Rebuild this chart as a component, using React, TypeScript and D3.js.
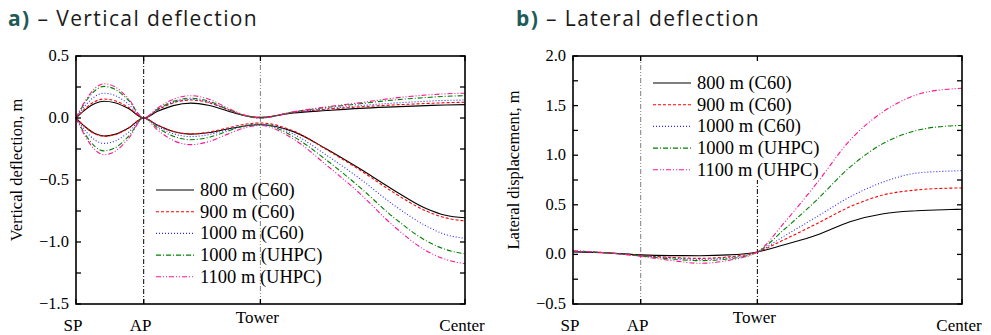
import * as d3 from 'd3';
import React, { useEffect, useRef } from 'react';

// series shared by both panels
const seriesNames = ['800 m (C60)', '900 m (C60)', '1000 m (C60)', '1000 m (UHPC)', '1100 m (UHPC)'];
const seriesColors = ['#000000', '#ff0000', '#2a2aff', '#008000', '#ff1493'];
const seriesDash = ['none', '3,2', '1,2', '5,2,1,2', '5,2,1,2,1,2'];

// stations along the girder (normalised distance)
const stationNames = ['SP', 'AP', 'Tower', 'Center'];
const stationPos = [0, 0.174, 0.474, 1];

// a) vertical deflection envelopes
const vertX = [0, 0.025, 0.05, 0.072, 0.1, 0.135, 0.174, 0.21, 0.25, 0.295, 0.34, 0.39, 0.435, 0.474, 0.559, 0.644, 0.73, 0.816, 0.9, 0.95, 1];
const vertUpper = [
  [0, 0.07, 0.119, 0.135, 0.123, 0.076, 0, 0.054, 0.1, 0.12, 0.103, 0.057, 0.018, 0.005, 0.04, 0.06, 0.078, 0.09, 0.1, 0.105, 0.108],
  [0, 0.08, 0.135, 0.153, 0.139, 0.086, 0, 0.065, 0.122, 0.145, 0.125, 0.068, 0.021, 0.005, 0.045, 0.07, 0.09, 0.105, 0.117, 0.123, 0.127],
  [0, 0.104, 0.176, 0.2, 0.182, 0.112, 0, 0.068, 0.126, 0.15, 0.128, 0.068, 0.017, 0, 0.045, 0.075, 0.1, 0.12, 0.135, 0.142, 0.145],
  [0, 0.133, 0.224, 0.255, 0.232, 0.143, 0, 0.072, 0.134, 0.16, 0.137, 0.072, 0.018, 0, 0.05, 0.085, 0.115, 0.145, 0.165, 0.175, 0.18],
  [0, 0.144, 0.243, 0.276, 0.251, 0.155, 0, 0.081, 0.151, 0.18, 0.154, 0.081, 0.021, 0, 0.05, 0.09, 0.123, 0.16, 0.185, 0.195, 0.2],
];
const vertLower = [
  [0, -0.075, -0.128, -0.145, -0.132, -0.081, 0, -0.059, -0.109, -0.13, -0.119, -0.089, -0.064, -0.055, -0.11, -0.25, -0.41, -0.58, -0.73, -0.785, -0.805],
  [0, -0.077, -0.13, -0.148, -0.135, -0.083, 0, -0.058, -0.108, -0.128, -0.115, -0.08, -0.05, -0.04, -0.105, -0.255, -0.42, -0.6, -0.75, -0.805, -0.83],
  [0, -0.107, -0.18, -0.205, -0.187, -0.115, 0, -0.068, -0.126, -0.15, -0.135, -0.095, -0.062, -0.05, -0.13, -0.3, -0.49, -0.7, -0.87, -0.94, -0.97],
  [0, -0.138, -0.233, -0.265, -0.241, -0.148, 0, -0.079, -0.147, -0.175, -0.157, -0.106, -0.064, -0.05, -0.15, -0.34, -0.56, -0.8, -0.99, -1.06, -1.095],
  [0, -0.154, -0.26, -0.296, -0.269, -0.166, 0, -0.097, -0.181, -0.215, -0.192, -0.13, -0.078, -0.06, -0.17, -0.38, -0.61, -0.87, -1.07, -1.14, -1.175],
];
const vertTicks = [0.5, 0, -0.5, -1, -1.5];

// b) lateral displacement
const latX = [0, 0.09, 0.174, 0.25, 0.327, 0.4, 0.474, 0.541, 0.627, 0.712, 0.798, 0.884, 0.969, 1];
const latValues = [
  [0.025, 0.015, -0.005, -0.012, -0.013, -0.005, 0.025, 0.095, 0.195, 0.33, 0.41, 0.44, 0.452, 0.455],
  [0.03, 0.015, -0.01, -0.03, -0.04, -0.025, 0.025, 0.145, 0.31, 0.48, 0.6, 0.65, 0.668, 0.67],
  [0.03, 0.015, -0.012, -0.035, -0.05, -0.035, 0.025, 0.18, 0.38, 0.58, 0.73, 0.82, 0.84, 0.845],
  [0.035, 0.015, -0.015, -0.045, -0.063, -0.045, 0.025, 0.245, 0.55, 0.88, 1.12, 1.25, 1.295, 1.3],
  [0.035, 0.015, -0.02, -0.06, -0.09, -0.06, 0.025, 0.31, 0.72, 1.15, 1.44, 1.61, 1.667, 1.675],
];
const latTicks = [2, 1.5, 1, 0.5, 0, -0.5];

const serif = '"Liberation Serif", "Times New Roman", serif';
const fmt = (v: number) => d3.format('.1f')(v).replace('-', '\u2212');

const panels = [
  {
    letter: 'a)', title: ' \u2013 Vertical deflection', ylabel: 'Vertical deflection, m',
    left: 76, xTitle: 8, domain: [-1.5, 0.5], ticks: vertTicks,
    curves: [vertLower, vertUpper], xs: vertX,
    guides: [{ pos: stationPos[1], color: '#000', dash: '5,2,1,2', top: 0.5 }, { pos: stationPos[2], color: '#808080', dash: '5,2,1,2,1,2', top: 0.5 }],
    legendY: 134,
  },
  {
    letter: 'b)', title: ' \u2013 Lateral deflection', ylabel: 'Lateral displacement, m',
    left: 573, xTitle: 516, domain: [-0.5, 2], ticks: latTicks,
    curves: [latValues], xs: latX,
    guides: [{ pos: stationPos[1], color: '#808080', dash: '5,2,1,2,1,2', top: 2 }, { pos: stationPos[2], color: '#000', dash: '5,2,1,2', top: 0.75 }],
    legendY: 27,
  },
];

const App = () => {
  const svgRef = useRef<SVGSVGElement>(null);

  useEffect(() => {
    const svg = d3.select(svgRef.current);
    svg.selectAll('*').remove();
    const plotW = 389;
    const top = 56;
    const bottom = 304;

    panels.forEach(p => {
      const x = d3.scaleLinear().domain([0, 1]).range([p.left, p.left + plotW]);
      const y = d3.scaleLinear().domain(p.domain).range([bottom, top]);
      const g = svg.append('g');

      // title
      const t = g.append('text').attr('x', p.xTitle).attr('y', 26)
        .attr('font-family', '"Open Sans", Lato, sans-serif').attr('font-size', 21)
        .attr('letter-spacing', 1.4).attr('fill', '#1a1a1a');
      t.append('tspan').attr('font-weight', 'bold').attr('fill', '#1e5b58').text(p.letter);
      t.append('tspan').text(p.title);

      // guide lines at AP and Tower
      g.selectAll('.guide').data(p.guides).join('line')
        .attr('x1', d => x(d.pos)).attr('x2', d => x(d.pos))
        .attr('y1', bottom).attr('y2', d => y(d.top))
        .attr('stroke', d => d.color).attr('stroke-width', 1).attr('stroke-dasharray', d => d.dash);

      // curves
      const line = d3.line<number>()
        .x((_, i) => x(p.xs[i]))
        .y(v => y(v))
        .curve(d3.curveMonotoneX);
      p.curves.forEach(set => {
        g.append('g').selectAll('path').data(set).join('path')
          .attr('d', v => line(v))
          .attr('fill', 'none')
          .attr('stroke', (_, i) => seriesColors[i])
          .attr('stroke-width', 1.1)
          .attr('stroke-dasharray', (_, i) => seriesDash[i]);
      });

      // frame
      g.append('rect').attr('x', p.left).attr('y', top).attr('width', plotW).attr('height', bottom - top)
        .attr('fill', 'none').attr('stroke', '#000').attr('stroke-width', 1.6);

      // y ticks every 0.25 on both sides, labels on majors
      const minor = d3.range(p.domain[0], p.domain[1] + 0.001, 0.25);
      g.selectAll('.tl').data(minor).join('line')
        .attr('x1', p.left).attr('x2', p.left + 5)
        .attr('y1', d => y(d)).attr('y2', d => y(d)).attr('stroke', '#000').attr('stroke-width', 1.3);
      g.selectAll('.tr').data(minor).join('line')
        .attr('x1', p.left + plotW).attr('x2', p.left + plotW - 5)
        .attr('y1', d => y(d)).attr('y2', d => y(d)).attr('stroke', '#000').attr('stroke-width', 1.3);
      g.selectAll('.yl').data(p.ticks).join('text')
        .attr('x', p.left - 7).attr('y', d => y(d) + 5)
        .attr('text-anchor', 'end').attr('font-family', serif).attr('font-size', 16.5)
        .text(d => fmt(d));

      // x station ticks and labels
      g.selectAll('.xt').data(stationPos).join('line')
        .attr('x1', d => x(d)).attr('x2', d => x(d))
        .attr('y1', top).attr('y2', top + 5).attr('stroke', '#000').attr('stroke-width', 1.3);
      g.selectAll('.xb').data(stationPos).join('line')
        .attr('x1', d => x(d)).attr('x2', d => x(d))
        .attr('y1', bottom).attr('y2', bottom - 5).attr('stroke', '#000').attr('stroke-width', 1.3);
      g.selectAll('.xl').data(stationNames).join('text')
        .attr('x', (_, i) => x(stationPos[i]) - 3)
        .attr('y', d => (d === 'Tower' ? 323 : 331))
        .attr('text-anchor', 'middle').attr('font-family', serif).attr('font-size', 17)
        .text(d => d);

      // y label
      g.append('text')
        .attr('transform', `translate(${p.left - 54},${(top + bottom) / 2 - 10}) rotate(-90)`)
        .attr('text-anchor', 'middle').attr('font-family', serif).attr('font-size', 16.5)
        .text(p.ylabel);

      // legend
      const lg = g.append('g').attr('transform', `translate(${p.left + 80},${top + p.legendY})`);
      const rows = lg.selectAll('g').data(seriesNames).join('g')
        .attr('transform', (_, i) => `translate(0,${i * 21.7})`);
      rows.append('line').attr('x1', 0).attr('x2', 38).attr('y1', 0).attr('y2', 0)
        .attr('stroke', (_, i) => seriesColors[i]).attr('stroke-width', 1.1)
        .attr('stroke-dasharray', (_, i) => seriesDash[i]);
      rows.append('text').attr('x', 44).attr('y', 6)
        .attr('font-family', serif).attr('font-size', 18.5)
        .text(d => d);
    });
  }, []);

  return (
    <svg ref={svgRef} width={991} height={335} style={{ position: 'absolute', left: 0, top: 0, background: '#fff' }} />
  );
};

export default App;
